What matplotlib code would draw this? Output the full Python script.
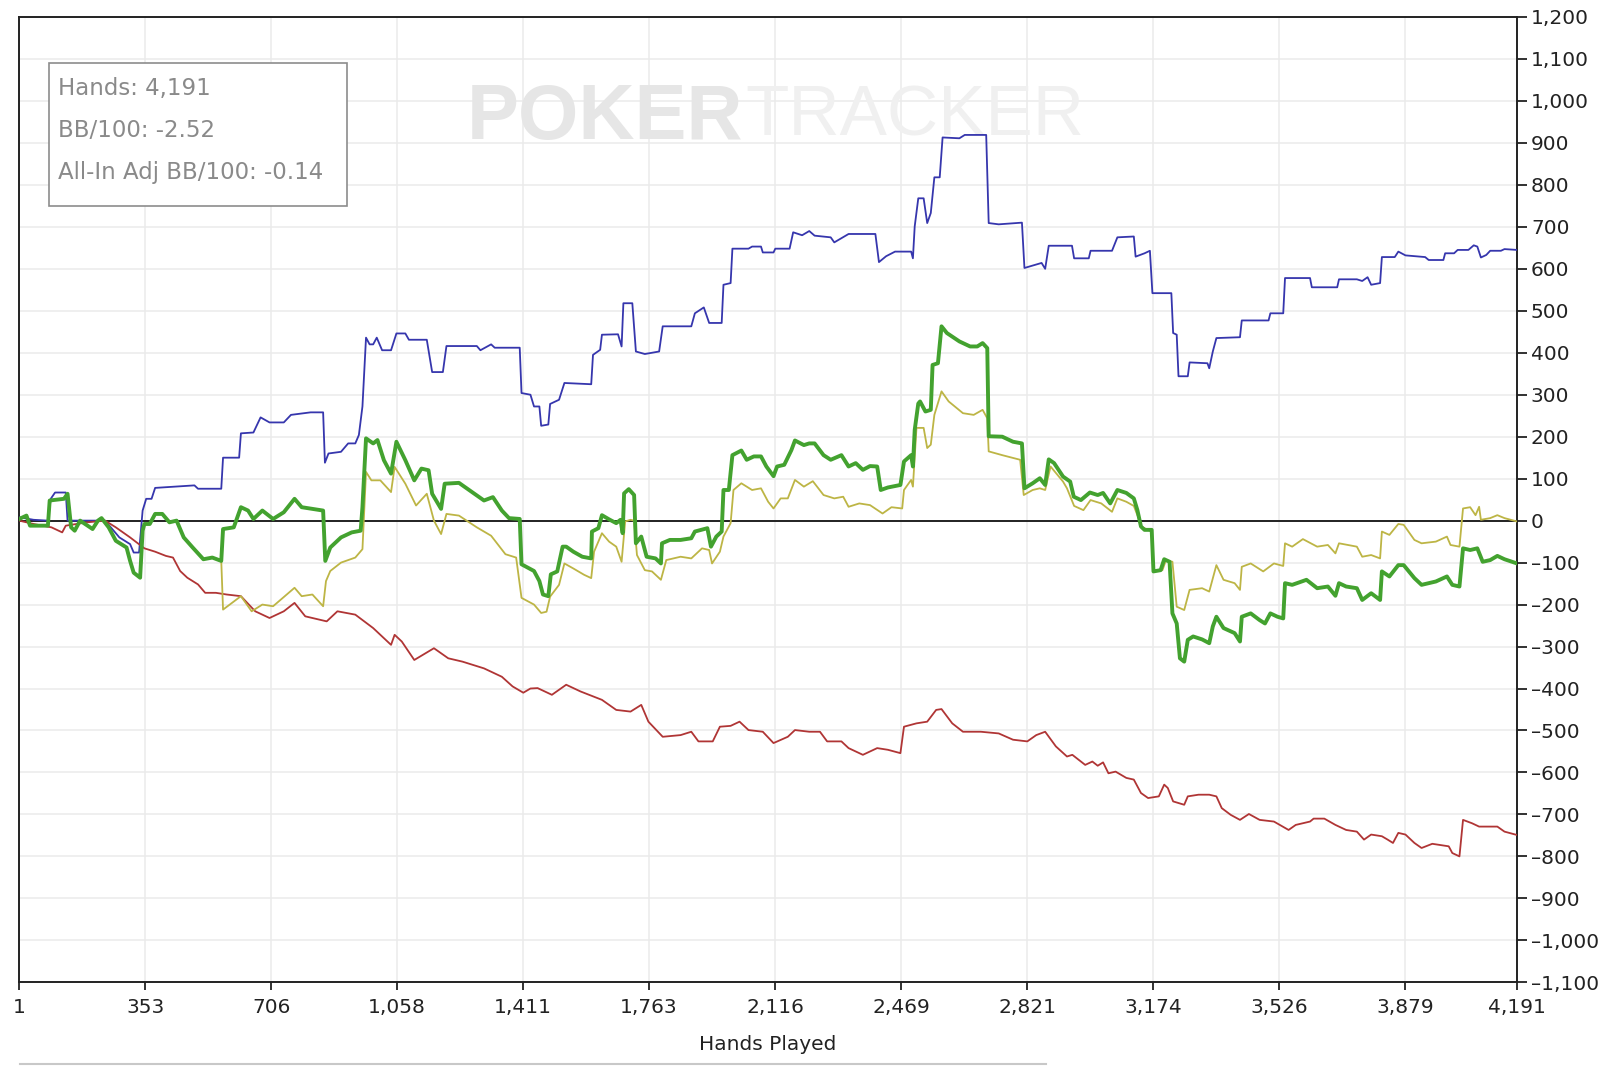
import matplotlib
matplotlib.use("Agg")
import matplotlib.pyplot as plt
from matplotlib.patches import Rectangle
from matplotlib.lines import Line2D
from matplotlib.ticker import FuncFormatter, FixedLocator

plt.rcParams['font.family'] = ['DejaVu Sans']

# x axis ticks (hand numbers shown by PokerTracker)
tick_hands = [1, 353, 706, 1058, 1411, 1763, 2116, 2469, 2821, 3174, 3526, 3879, 4191]
tick_values = list(range(-1100, 1201, 100))

# net won (green)
net_hands = [1, 21, 31, 81, 86, 126, 136, 146, 156, 171,
             206, 221, 231, 251, 271, 301, 311, 321, 339, 346,
             351, 366, 381, 401, 421, 441, 461, 486, 516, 541,
             566, 571, 601, 621, 641, 656, 681, 711, 741, 771,
             791, 821, 851, 857, 871, 901, 931, 956, 961, 971,
             991, 1003, 1021, 1041, 1056, 1081, 1106, 1126, 1146, 1156,
             1181, 1191, 1231, 1261, 1301, 1326, 1351, 1371, 1401, 1406,
             1441, 1456, 1466, 1481, 1488, 1506, 1521, 1531, 1551, 1576,
             1601, 1603, 1621, 1631, 1651, 1671, 1683, 1689, 1693, 1706,
             1721, 1726, 1741, 1756, 1781, 1796, 1799, 1821, 1851, 1881,
             1891, 1926, 1936, 1951, 1966, 1971, 1986, 1996, 2021, 2036,
             2056, 2076, 2091, 2111, 2121, 2141, 2161, 2171, 2196, 2211,
             2226, 2251, 2271, 2301, 2321, 2341, 2361, 2381, 2401, 2411,
             2431, 2466, 2476, 2496, 2501, 2506, 2516, 2521, 2536, 2551,
             2556, 2571, 2581, 2596, 2631, 2661, 2681, 2696, 2709, 2713,
             2751, 2781, 2806, 2813, 2836, 2856, 2871, 2881, 2896, 2921,
             2941, 2951, 2971, 2996, 3018, 3033, 3053, 3073, 3098, 3119,
             3129, 3139, 3149, 3169, 3174, 3194, 3204, 3219, 3227, 3239,
             3248, 3260, 3270, 3285, 3310, 3330, 3340, 3350, 3370, 3401,
             3416, 3421, 3446, 3471, 3486, 3501, 3521, 3537, 3542, 3562,
             3602, 3632, 3662, 3683, 3693, 3713, 3743, 3758, 3783, 3808,
             3813, 3834, 3859, 3874, 3904, 3924, 3964, 3995, 4010, 4030,
             4040, 4060, 4080, 4095, 4116, 4136, 4156, 4191]
net_won = [4, 12, -12, -12, 48, 52, 64, -16, -24, 0,
           -20, 0, 6, -16, -48, -64, -96, -124, -136, -24,
           -8, -8, 16, 16, -4, 0, -40, -64, -92, -88,
           -96, -20, -16, 32, 24, 4, 24, 4, 20, 52,
           32, 28, 24, -96, -64, -40, -28, -24, 32, 196,
           184, 192, 144, 112, 188, 144, 96, 124, 120, 64,
           28, 88, 90, 72, 48, 56, 24, 6, 4, -104,
           -120, -144, -176, -180, -128, -121, -62, -62, -74, -86,
           -90, -26, -18, 13, 3, -6, 2, -30, 65, 75,
           61, -54, -38, -86, -90, -102, -54, -46, -46, -42,
           -26, -18, -62, -38, -26, 73, 73, 156, 167, 145,
           153, 153, 129, 106, 129, 133, 168, 191, 180, 184,
           184, 156, 145, 156, 129, 137, 121, 130, 129, 73,
           79, 85, 141, 156, 129, 216, 279, 284, 260, 264,
           371, 375, 463, 447, 427, 415, 415, 423, 411, 201,
           200, 188, 184, 77, 89, 101, 85, 146, 137, 105,
           93, 57, 49, 67, 61, 66, 41, 73, 66, 53,
           25, -14, -22, -22, -121, -118, -92, -98, -221, -245,
           -328, -336, -284, -276, -283, -292, -252, -229, -256, -268,
           -288, -229, -221, -237, -245, -221, -229, -233, -149, -153,
           -141, -161, -157, -179, -149, -157, -161, -189, -173, -189,
           -121, -133, -106, -106, -137, -153, -145, -133, -153, -157,
           -66, -70, -66, -98, -94, -84, -92, -102]

# all-in adjusted EV (olive)
ev_hands = [1, 21, 31, 81, 86, 126, 136, 146, 156, 171,
            206, 221, 231, 251, 271, 301, 311, 321, 339, 346,
            351, 366, 381, 401, 421, 441, 461, 486, 516, 541,
            566, 571, 621, 651, 681, 711, 771, 791, 821, 851,
            859, 871, 901, 941, 961, 971, 986, 1011, 1041, 1051,
            1081, 1111, 1141, 1161, 1181, 1196, 1231, 1281, 1321, 1361,
            1391, 1406, 1441, 1461, 1476, 1486, 1511, 1526, 1551, 1581,
            1601, 1609, 1631, 1651, 1671, 1686, 1696, 1711, 1721, 1729,
            1751, 1771, 1796, 1811, 1851, 1881, 1911, 1931, 1939, 1961,
            1971, 1991, 1999, 2021, 2051, 2076, 2096, 2111, 2131, 2151,
            2171, 2196, 2221, 2251, 2281, 2306, 2321, 2351, 2381, 2416,
            2441, 2471, 2476, 2496, 2501, 2511, 2531, 2541, 2551, 2561,
            2581, 2601, 2641, 2671, 2696, 2709, 2713, 2751, 2801, 2811,
            2836, 2856, 2871, 2886, 2921, 2932, 2952, 2978, 2998, 3028,
            3058, 3073, 3098, 3119, 3134, 3139, 3169, 3174, 3199, 3209,
            3227, 3239, 3260, 3275, 3310, 3330, 3350, 3370, 3401, 3416,
            3421, 3446, 3481, 3511, 3537, 3542, 3562, 3592, 3632, 3662,
            3683, 3693, 3743, 3758, 3783, 3808, 3813, 3834, 3859, 3874,
            3904, 3924, 3964, 3995, 4005, 4030, 4040, 4060, 4075, 4085,
            4090, 4116, 4136, 4156, 4191]
ev_won = [4, 12, -12, -12, 48, 52, 64, -16, -24, 0,
          -20, 0, 6, -16, -48, -64, -96, -124, -136, -24,
          -8, -8, 16, 16, -4, 0, -40, -64, -92, -88,
          -96, -212, -180, -216, -200, -204, -160, -180, -176, -204,
          -144, -120, -100, -88, -68, 116, 96, 96, 68, 128,
          88, 36, 64, 0, -32, 16, 12, -16, -36, -80,
          -88, -184, -200, -220, -217, -181, -153, -102, -114, -129,
          -137, -74, -30, -50, -62, -98, -2, 2, 0, -82,
          -118, -121, -141, -94, -86, -90, -66, -70, -102, -74,
          -38, -6, 73, 89, 73, 77, 45, 29, 53, 53,
          97, 81, 94, 61, 53, 57, 33, 41, 37, 17,
          32, 29, 73, 97, 81, 221, 221, 173, 181, 252,
          308, 284, 256, 252, 264, 244, 165, 156, 145, 61,
          73, 77, 73, 129, 93, 77, 35, 25, 49, 41,
          21, 53, 45, 35, 2, -14, -26, -118, -118, -94,
          -98, -205, -213, -165, -161, -169, -106, -141, -149, -165,
          -110, -102, -121, -102, -108, -54, -62, -44, -62, -58,
          -78, -54, -62, -86, -82, -90, -26, -34, -8, -10,
          -46, -54, -50, -38, -58, -62, 29, 32, 13, 33,
          2, 6, 13, 6, -2]

# showdown winnings (blue)
sd_hands = [1, 41, 81, 89, 101, 131, 136, 241, 281, 311,
            321, 336, 346, 356, 371, 381, 491, 501, 566, 571,
            616, 621, 656, 676, 701, 741, 761, 816, 851, 856,
            866, 901, 921, 941, 951, 961, 971, 981, 991, 1001,
            1016, 1041, 1056, 1081, 1091, 1141, 1156, 1186, 1196, 1281,
            1291, 1321, 1331, 1401, 1406, 1431, 1441, 1456, 1461, 1481,
            1486, 1511, 1526, 1601, 1606, 1626, 1631, 1676, 1686, 1691,
            1716, 1726, 1751, 1791, 1801, 1881, 1891, 1916, 1931, 1966,
            1971, 1991, 1996, 2041, 2051, 2076, 2081, 2111, 2116, 2156,
            2166, 2191, 2211, 2226, 2271, 2281, 2321, 2396, 2406, 2426,
            2451, 2496, 2501, 2506, 2516, 2531, 2541, 2551, 2561, 2576,
            2584, 2631, 2646, 2706, 2713, 2741, 2806, 2813, 2861, 2871,
            2881, 2946, 2952, 2993, 2998, 3058, 3073, 3119, 3124, 3149,
            3164, 3171, 3224, 3229, 3239, 3244, 3270, 3275, 3325, 3330,
            3340, 3350, 3416, 3421, 3496, 3501, 3537, 3542, 3612, 3617,
            3688, 3693, 3743, 3758, 3773, 3783, 3808, 3813, 3849, 3859,
            3879, 3934, 3944, 3985, 3990, 4015, 4025, 4055, 4070, 4080,
            4090, 4105, 4116, 4146, 4156, 4191]
sd_won = [8, 2, 0, 52, 67, 67, 0, 0, -40, -56,
          -76, -76, 24, 52, 52, 78, 84, 76, 76, 150,
          150, 208, 210, 246, 234, 234, 252, 258, 258, 138,
          160, 164, 184, 184, 204, 272, 436, 420, 420, 436,
          406, 406, 446, 446, 431, 431, 354, 354, 416, 416,
          406, 420, 412, 412, 304, 300, 272, 272, 226, 229,
          278, 288, 328, 325, 395, 407, 443, 444, 415, 518,
          518, 403, 397, 403, 463, 463, 494, 508, 471, 471,
          562, 566, 648, 648, 653, 653, 639, 639, 648, 648,
          687, 680, 690, 679, 675, 663, 683, 683, 616, 630,
          641, 641, 625, 701, 768, 768, 709, 733, 818, 818,
          913, 911, 919, 919, 709, 706, 710, 602, 614, 600,
          655, 655, 625, 625, 643, 643, 675, 677, 629, 637,
          643, 542, 542, 447, 443, 344, 344, 377, 375, 363,
          403, 435, 437, 477, 477, 494, 494, 578, 578, 556,
          556, 575, 575, 571, 580, 562, 566, 628, 628, 641,
          632, 628, 621, 621, 637, 637, 645, 645, 656, 653,
          627, 633, 643, 643, 647, 645]

# non-showdown winnings (red)
nsd_hands = [1, 41, 91, 121, 131, 191, 241, 271, 311, 351,
             381, 411, 431, 451, 471, 501, 521, 551, 581, 621,
             661, 701, 741, 771, 801, 841, 861, 891, 941, 991,
             1031, 1041, 1051, 1071, 1106, 1161, 1201, 1241, 1301, 1351,
             1381, 1411, 1431, 1451, 1491, 1531, 1571, 1631, 1671, 1711,
             1741, 1761, 1801, 1851, 1881, 1901, 1941, 1961, 1991, 2016,
             2041, 2081, 2111, 2151, 2171, 2211, 2241, 2261, 2301, 2321,
             2361, 2401, 2431, 2466, 2476, 2511, 2541, 2566, 2581, 2611,
             2641, 2691, 2741, 2781, 2821, 2846, 2871, 2901, 2932, 2947,
             2983, 3003, 3018, 3033, 3048, 3068, 3098, 3119, 3139, 3159,
             3189, 3204, 3214, 3229, 3260, 3270, 3300, 3330, 3350, 3365,
             3390, 3416, 3441, 3471, 3511, 3552, 3572, 3612, 3622, 3652,
             3683, 3713, 3743, 3763, 3783, 3813, 3829, 3844, 3859, 3879,
             3904, 3924, 3954, 4000, 4010, 4030, 4040, 4065, 4085, 4136,
             4156, 4191]
nsd_won = [0, -8, -16, -28, -12, -4, 0, -16, -40, -66,
           -74, -84, -88, -120, -136, -152, -172, -172, -176, -180,
           -216, -232, -216, -196, -228, -236, -240, -216, -224, -256,
           -288, -296, -272, -288, -332, -304, -328, -336, -352, -372,
           -395, -410, -400, -399, -415, -391, -407, -427, -451, -455,
           -439, -479, -515, -511, -503, -526, -526, -491, -489, -479,
           -499, -503, -530, -515, -499, -503, -503, -526, -526, -542,
           -558, -542, -546, -554, -491, -483, -479, -451, -449, -483,
           -503, -503, -507, -522, -526, -511, -503, -538, -562, -558,
           -582, -574, -584, -576, -602, -598, -613, -617, -649, -661,
           -657, -629, -637, -669, -677, -657, -653, -653, -657, -685,
           -701, -713, -699, -713, -717, -737, -725, -717, -710, -710,
           -725, -737, -741, -760, -748, -752, -760, -768, -744, -748,
           -768, -780, -770, -776, -792, -800, -713, -721, -729, -729,
           -741, -749]

stats_lines = ["Hands: 4,191", "BB/100: -2.52", "All-In Adj BB/100: -0.14"]

W, H = 1624, 1066
fig = plt.figure(figsize=(W / 100, H / 100), dpi=100)
fig.patch.set_facecolor("white")

# plot area in pixels: x 19..1517, y 17..982
ax = fig.add_axes([19.3 / W, 1 - 982.3 / H, (1517 - 19.3) / W, (982.3 - 17) / H])
ax.set_facecolor("white")

ax.plot(sd_hands, sd_won, color="#3636ad", lw=1.3, zorder=3)
ax.plot(nsd_hands, nsd_won, color="#b03535", lw=1.3, zorder=3)
ax.plot(ev_hands, ev_won, color="#bdb545", lw=1.3, zorder=3.1)
ax.plot(net_hands, net_won, color="#43a22f", lw=2.8, zorder=3.2)
ax.axhline(0, color="#222222", lw=1.4, zorder=2.5)

ax.set_xlim(1, 4191)
ax.set_ylim(-1100, 1200)

ax.xaxis.set_major_locator(FixedLocator(tick_hands))
ax.yaxis.set_major_locator(FixedLocator(tick_values))
fmt = FuncFormatter(lambda v, p: f"{int(round(v)):,}".replace("-", "\u2013"))
ax.xaxis.set_major_formatter(fmt)
ax.yaxis.set_major_formatter(fmt)

ax.yaxis.tick_right()
ax.tick_params(axis="y", direction="out", length=7, width=1.3, color="#222222",
               labelsize=14.5, labelcolor="#222222", pad=3)
ax.tick_params(axis="x", direction="out", length=6, width=1.3, color="#222222",
               labelsize=14.5, labelcolor="#222222", pad=5)
for lbl in ax.get_yticklabels():
    lbl.set_horizontalalignment("left")

ax.grid(True, color="#ebebeb", lw=1.1, zorder=0)
ax.set_axisbelow(True)
for s in ax.spines.values():
    s.set_color("#222222")
    s.set_linewidth(1.4)

ax.set_xlabel("Hands Played", fontsize=14.5, color="#222222")
ax.xaxis.set_label_coords(0.5, -(1044 - 982.3) / (982.3 - 17))
ax.xaxis.label.set_va("center")

# watermark
ax.text(467 / W, 1 - 118 / H, "POKER", transform=fig.transFigure, fontsize=56,
        fontweight="bold", color="#e6e6e6", ha="left", va="center",
        family="Liberation Sans", zorder=1)
ax.text(745 / W, 1 - 118 / H, "TRACKER", transform=fig.transFigure, fontsize=51,
        color="#f0f0f0", ha="left", va="center", family="Liberation Sans", zorder=1)

# stats box
box = Rectangle((48.7 / W, 1 - 206 / H), (347 - 48.7) / W, (206 - 63) / H,
                transform=fig.transFigure, facecolor="white", edgecolor="#8c8c8c",
                lw=1.2, zorder=5, clip_on=False)
ax.add_patch(box)
for i, line in enumerate(stats_lines):
    ax.text(58 / W, 1 - (89 + 41.5 * i) / H, line, transform=fig.transFigure,
            fontsize=16.5, color="#8a8a8a", ha="left", va="center", zorder=6)

# faint rule at the bottom of the screenshot
fig.add_artist(Line2D([20 / W, 1046 / W], [1 - 1064 / H] * 2, color="#c8c8c8", lw=1.5))

fig.savefig("out.png", dpi=100)
